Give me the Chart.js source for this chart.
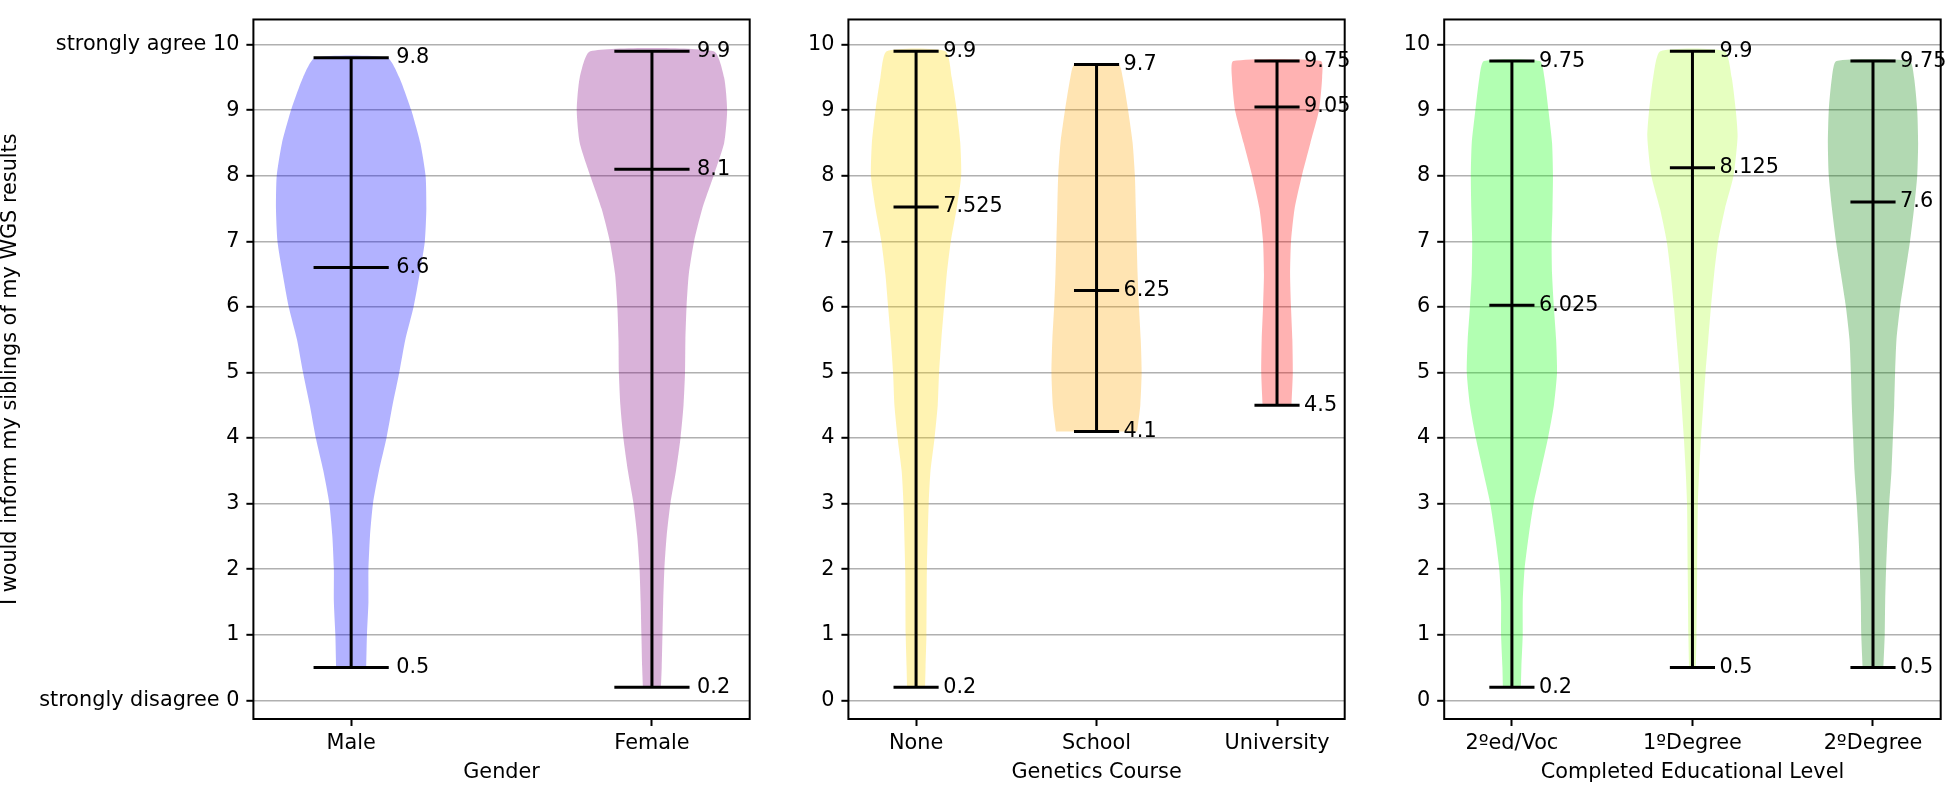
<!DOCTYPE html>
<html>
<head>
<meta charset="utf-8">
<script src="https://cdn.jsdelivr.net/npm/chart.js@4.4.1/dist/chart.umd.min.js"></script>
<style>
body { margin: 0; background: #fff; width: 1946px; height: 785px; overflow: hidden; position: relative; }
canvas { position: absolute; top: 0; }
</style>
</head>
<body>
<canvas id="gender" width="780" height="785" style="left:0px"></canvas>
<canvas id="course" width="640" height="785" style="left:770px"></canvas>
<canvas id="edu" width="580" height="785" style="left:1366px"></canvas>
<script>
// ---- data ----
const yTicks = [0, 1, 2, 3, 4, 5, 6, 7, 8, 9, 10];
const yTopWord = 'strongly agree';
const yBottomWord = 'strongly disagree';
const yTitle = 'I would inform my siblings of my WGS results';

const genderCats = ['Male', 'Female'];
const genderMins = [0.5, 0.2];
const genderMedians = [6.6, 8.1];
const genderMaxs = [9.8, 9.9];

const courseCats = ['None', 'School', 'University'];
const courseMins = [0.2, 4.1, 4.5];
const courseMedians = [7.525, 6.25, 9.05];
const courseMaxs = [9.9, 9.7, 9.75];

const eduCats = ['2ºed/Voc', '1ºDegree', '2ºDegree'];
const eduMins = [0.2, 0.5, 0.5];
const eduMedians = [6.025, 8.125, 7.6];
const eduMaxs = [9.75, 9.9, 9.75];

// violin outlines: [value, relative density]
const maleShape = [[0.5,0.20],[1,0.21],[1.5,0.23],[2,0.23],[2.5,0.25],[3,0.29],[3.5,0.37],[4,0.47],[4.5,0.55],[5,0.64],[5.5,0.72],[6,0.83],[6.5,0.91],[7,0.98],[7.5,1.0],[8,0.99],[8.5,0.92],[9,0.80],[9.5,0.64],[9.8,0.48]];
const femaleShape = [[0.2,0.12],[0.5,0.13],[1,0.14],[1.5,0.15],[2,0.165],[2.5,0.195],[3,0.245],[3.5,0.32],[4,0.38],[4.5,0.42],[5,0.44],[5.5,0.445],[6,0.46],[6.5,0.49],[7,0.56],[7.5,0.67],[8,0.82],[8.5,0.96],[9,1.0],[9.5,0.96],[9.9,0.82]];
const noneShape = [[0.2,0.20],[0.5,0.21],[1,0.23],[2,0.24],[3,0.28],[3.5,0.32],[4,0.41],[4.5,0.48],[5,0.51],[5.5,0.56],[6,0.62],[6.5,0.68],[7,0.77],[7.5,0.90],[8,1.0],[8.5,0.98],[9,0.90],[9.5,0.79],[9.9,0.65]];
const schoolShape = [[4.1,0.90],[4.5,0.97],[5,1.0],[5.5,0.98],[6,0.94],[6.5,0.91],[7,0.89],[7.5,0.87],[8,0.85],[8.5,0.80],[9,0.70],[9.5,0.58],[9.7,0.49]];
const universityShape = [[4.5,0.32],[5,0.35],[5.5,0.34],[6,0.31],[6.5,0.29],[7,0.31],[7.5,0.39],[8,0.55],[8.5,0.74],[9,0.93],[9.5,1.0],[9.75,0.97]];
const edVocShape = [[0.2,0.20],[0.5,0.21],[1,0.24],[1.5,0.24],[2,0.28],[2.5,0.37],[3,0.48],[3.5,0.64],[4,0.80],[4.5,0.93],[5,1.0],[5.5,0.98],[6,0.93],[6.5,0.89],[7,0.88],[7.5,0.90],[8,0.91],[8.5,0.89],[9,0.81],[9.5,0.72],[9.75,0.62]];
const degree1Shape = [[0.5,0.075],[1,0.09],[2,0.105],[3,0.12],[3.5,0.15],[4,0.19],[4.5,0.24],[5,0.29],[5.5,0.35],[6,0.41],[6.5,0.48],[7,0.57],[7.5,0.72],[8,0.91],[8.6,1.0],[9,0.96],[9.5,0.87],[9.9,0.71]];
const degree2Shape = [[0.5,0.23],[1,0.26],[1.5,0.27],[2,0.29],[2.5,0.32],[3,0.36],[3.5,0.41],[4,0.44],[4.5,0.47],[5,0.49],[5.5,0.52],[6,0.60],[6.5,0.71],[7,0.82],[7.5,0.91],[8,0.98],[8.5,1.0],[9,0.98],[9.5,0.91],[9.75,0.81]];

const genderColors = ['rgba(0,0,255,0.3)', 'rgba(128,0,128,0.3)'];
const courseColors = ['rgba(255,215,0,0.3)', 'rgba(255,165,0,0.3)', 'rgba(255,0,0,0.3)'];
const eduColors = ['rgba(0,255,0,0.3)', 'rgba(173,255,47,0.3)', 'rgba(0,128,0,0.3)'];

const fontPx = 20.8;
Chart.defaults.font.family = "'DejaVu Sans'";
Chart.defaults.font.size = fontPx;
Chart.defaults.color = '#000';

function violinPoints(pos, shape)
{
    let pts = [];
    for (let i = 0; i < shape.length; i++)
        pts.push({x: pos + 0.25 * shape[i][1], y: shape[i][0]});
    for (let i = shape.length - 1; i >= 0; i--)
        pts.push({x: pos - 0.25 * shape[i][1], y: shape[i][0]});
    return pts;
}

function statLine(points)
{
    return {
        data: points, borderColor: '#000', borderWidth: 3, pointRadius: 0,
        fill: false, tension: 0, order: 1, borderCapStyle: 'butt'
    };
}

const framePlugin = {
    id: 'frame',
    afterDraw(chart) {
        const a = chart.chartArea, ctx = chart.ctx;
        ctx.save();
        ctx.strokeStyle = '#000';
        ctx.lineWidth = 2;
        ctx.strokeRect(a.left, a.top, a.right - a.left, a.bottom - a.top);
        ctx.restore();
    }
};

function makePanel(id, cats, shapes, mins, medians, maxs, colors, xTitle, yWidth, rightPad, firstPanel)
{
    const n = cats.length;
    const positions = cats.map((c, i) => i + 1);
    const margin = 0.05 * (n - 0.5);
    let datasets = [];

    for (let i = 0; i < n; i++)
    {
        const p = positions[i];
        datasets.push(statLine([{x: p, y: mins[i]}, {x: p, y: maxs[i]}]));
        datasets.push(statLine([{x: p - 0.125, y: mins[i]}, {x: p + 0.125, y: mins[i]}]));
        datasets.push(statLine([{x: p - 0.125, y: medians[i]}, {x: p + 0.125, y: medians[i]}]));
        datasets.push(statLine([{x: p - 0.125, y: maxs[i]}, {x: p + 0.125, y: maxs[i]}]));
        datasets.push({
            data: violinPoints(p, shapes[i]),
            backgroundColor: colors[i], borderWidth: 0, pointRadius: 0,
            fill: 'shape', tension: 0.2, order: 2
        });
    }

    const labelPlugin = {
        id: 'statLabels',
        afterDatasetsDraw(chart) {
            const ctx = chart.ctx, xs = chart.scales.x, ys = chart.scales.y;
            ctx.save();
            ctx.font = fontPx + "px 'DejaVu Sans'";
            ctx.fillStyle = '#000';
            ctx.textAlign = 'left';
            ctx.textBaseline = 'middle';
            for (let i = 0; i < n; i++)
            {
                const tx = xs.getPixelForValue(positions[i] + 0.15);
                [mins[i], medians[i], maxs[i]].forEach(v => {
                    ctx.fillText(String(v), tx, ys.getPixelForValue(v));
                });
            }
            ctx.restore();
        }
    };

    new Chart(document.getElementById(id), {
        type: 'line',
        data: { datasets: datasets },
        options: {
            responsive: false,
            animation: false,
            devicePixelRatio: 1,
            layout: { padding: { top: 1, right: rightPad, bottom: 0, left: 0 } },
            plugins: { legend: { display: false }, tooltip: { enabled: false } },
            scales: {
                x: {
                    type: 'linear',
                    min: 0.75 - margin,
                    max: n + 0.25 + margin,
                    afterBuildTicks: s => { s.ticks = positions.map(v => ({value: v})); },
                    afterFit: s => { s.height = 66; },
                    ticks: { callback: v => cats[v - 1], padding: 5, maxRotation: 0, autoSkip: false },
                    grid: { drawOnChartArea: false, tickLength: 7, tickColor: '#000', tickWidth: 2 },
                    border: { display: false },
                    title: { display: true, text: xTitle, padding: { top: 0, bottom: 2 }, font: { size: fontPx, lineHeight: 1 } }
                },
                y: {
                    type: 'linear',
                    min: -0.285,
                    max: 10.385,
                    afterBuildTicks: s => { s.ticks = yTicks.map(v => ({value: v})); },
                    afterFit: s => { s.width = yWidth; },
                    ticks: {
                        padding: 7,
                        callback: v => {
                            if (firstPanel && v === 10) return yTopWord + ' 10';
                            if (firstPanel && v === 0) return yBottomWord + ' 0';
                            return String(v);
                        }
                    },
                    grid: { color: '#b0b0b0', lineWidth: 1.6, tickLength: 7, tickColor: '#000', tickWidth: 2 },
                    border: { display: false },
                    title: { display: firstPanel, text: yTitle, padding: { top: 0, bottom: 0 }, font: { size: fontPx, lineHeight: 1 } }
                }
            }
        },
        plugins: [labelPlugin, framePlugin]
    });
}

makePanel('gender', genderCats, [maleShape, femaleShape], genderMins, genderMedians, genderMaxs,
    genderColors, 'Gender', 253.4, 30.3, true);
makePanel('course', courseCats, [noneShape, schoolShape, universityShape], courseMins, courseMedians, courseMaxs,
    courseColors, 'Genetics Course', 78.4, 65.3, false);
makePanel('edu', eduCats, [edVocShape, degree1Shape, degree2Shape], eduMins, eduMedians, eduMaxs,
    eduColors, 'Completed Educational Level', 78.2, 5.3, false);
</script>
</body>
</html>
